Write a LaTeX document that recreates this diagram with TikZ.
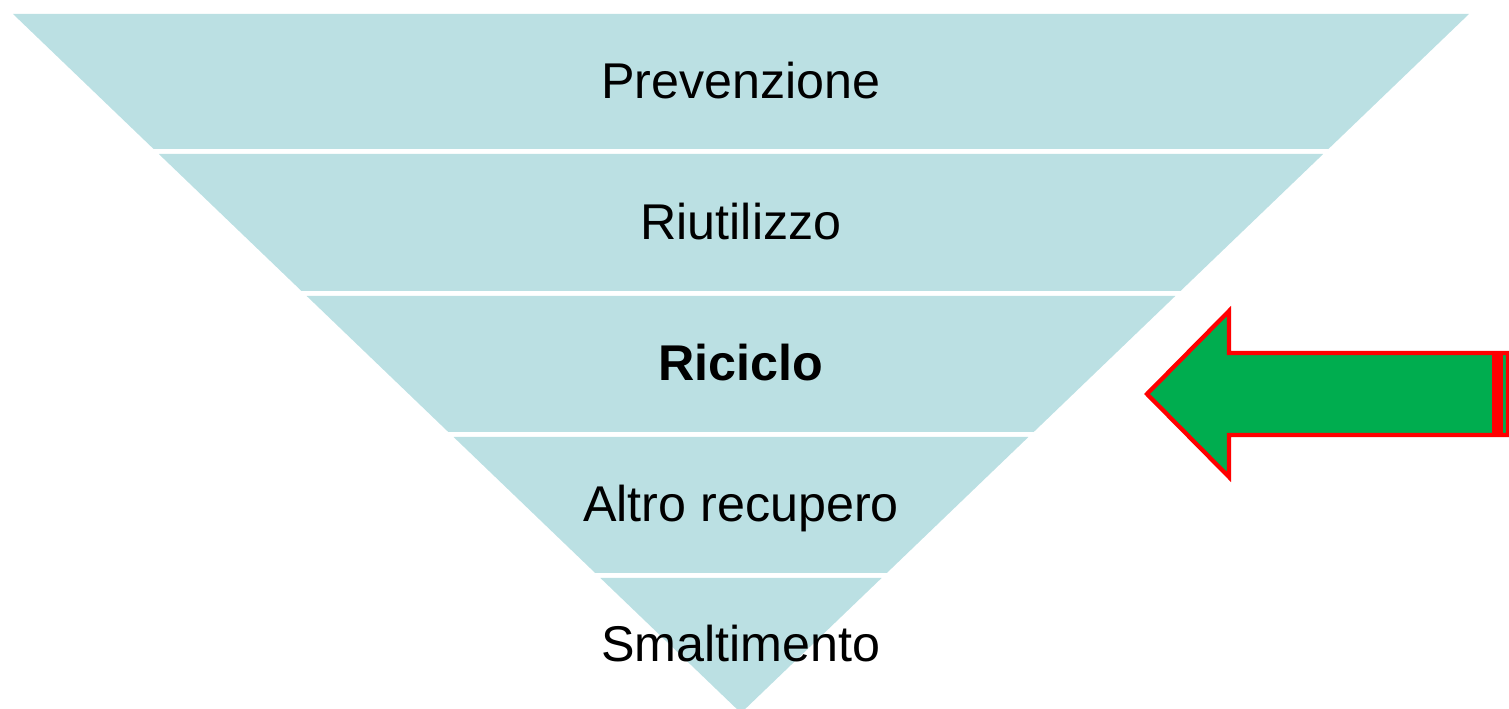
\documentclass[tikz,border=0pt]{standalone}
\usepackage{fontspec}
\setmainfont{Liberation Sans}
\definecolor{band}{HTML}{BBE0E3}
\definecolor{agreen}{HTML}{00AD4F}
\definecolor{ared}{HTML}{FF0000}
\begin{document}
\begin{tikzpicture}[x=0.02cm,y=-0.02cm,
  bandshape/.style={fill=band,draw=none},
  label/.style={anchor=base,font=\fontsize{28.6}{32}\selectfont,inner sep=0pt},
  arrowshape/.style={fill=agreen,draw=ared,line width=0.085cm,line join=miter}]
\useasboundingbox (0,0) rectangle (1509,709);
\begin{scope}
\clip (0,0) rectangle (1509,709);
\fill[bandshape] (13,14) -- (1469,14) -- (1328.4,149) -- (153.6,149) -- cycle;
\fill[bandshape] (158.8,154) -- (1323.2,154) -- (1180.5,291) -- (301.5,291) -- cycle;
\fill[bandshape] (306.7,296) -- (1175.3,296) -- (1033.7,432) -- (448.3,432) -- cycle;
\fill[bandshape] (453.6,437) -- (1028.4,437) -- (886.8,573) -- (595.2,573) -- cycle;
\fill[bandshape] (600.4,578) -- (881.6,578) -- (741,713) -- cycle;
\draw[arrowshape] (1147,394) -- (1229,311) -- (1229,353) -- (1508,353) -- (1508,435) -- (1229,435) -- (1229,477) -- cycle;
\fill[ared] (1492,353) rectangle (1503,435);
\end{scope}
\node[label] (p1) at (741,99) {Prevenzione};
\node[label] (p2) at (741,240) {Riutilizzo};
\node[label] (p3) at (741,381) {\bfseries Riciclo};
\node[label] (p4) at (741,522) {Altro recupero};
\node[label] (p5) at (741,662) {Smaltimento};
\end{tikzpicture}
\end{document}
